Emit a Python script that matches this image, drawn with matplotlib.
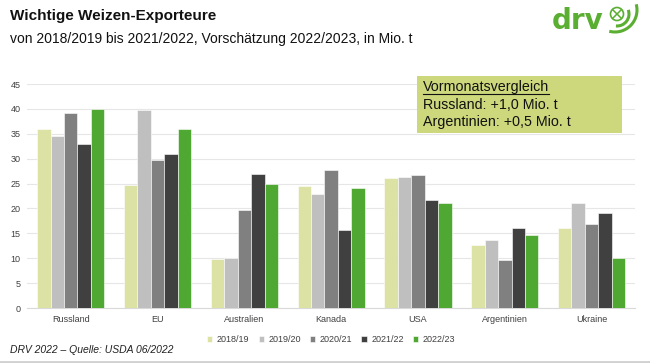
import numpy as np
import matplotlib
matplotlib.use("Agg")
import matplotlib.pyplot as plt
from matplotlib.patches import Circle, Arc

# ── Data ──────────────────────────────────────────────────────────────────────
countries = ["Russland", "EU", "Australien", "Kanada", "USA", "Argentinien", "Ukraine"]
seasons   = ["2018/19", "2019/20", "2020/21", "2021/22", "2022/23"]

v_2018 = [35.9, 24.7,  9.8, 24.5, 26.2, 12.7, 16.1]
v_2019 = [34.5, 39.8, 10.1, 23.0, 26.4, 13.6, 21.1]
v_2020 = [39.1, 29.7, 19.7, 27.8, 26.7,  9.6, 16.9]
v_2021 = [33.0, 31.0, 27.0, 15.6, 21.8, 16.1, 19.1]
v_2022 = [40.0, 36.0, 25.0, 24.1, 21.0, 14.6, 10.1]

colors = ["#DCE2A4", "#BFBFBF", "#808080", "#404040", "#4FA832"]
GREEN = "#5AAE32"

plt.rcParams["font.family"] = ["Liberation Sans", "DejaVu Sans"]

fig = plt.figure(figsize=(6.5, 3.63), dpi=100)
ax = fig.add_axes([0.042, 0.1515, 0.935, 0.617])

x = np.arange(len(countries))
w = 0.155
series = [v_2018, v_2019, v_2020, v_2021, v_2022]
for i, (vals, lab, c) in enumerate(zip(series, seasons, colors)):
    ax.bar(x + (i - 2) * w, vals, w, color=c, label=lab,
           edgecolor="white", linewidth=0.4, zorder=3)

ax.set_xlim(-0.5, 6.5)
ax.set_ylim(0, 45)
ax.set_yticks(range(0, 46, 5))
ax.set_xticks(x)
ax.set_xticklabels(countries)
ax.tick_params(axis="both", length=0, labelsize=6.5, colors="#404040")
ax.tick_params(axis="x", pad=5)
ax.tick_params(axis="y", pad=5)
ax.grid(axis="y", color="#E6E6E6", linewidth=0.8, zorder=0)
for s in ["top", "right", "left"]:
    ax.spines[s].set_visible(False)
ax.spines["bottom"].set_color("#D9D9D9")

ax.legend(loc="upper center", bbox_to_anchor=(0.5, -0.085), ncol=5,
          frameon=False, fontsize=6.5, handlelength=0.6, handleheight=0.6,
          columnspacing=1.0, handletextpad=0.5, labelcolor="#404040")

# ── Titles, footer ───────────────────────────────────────────────────────────
fig.text(0.016, 0.955, "Wichtige Weizen-Exporteure", fontsize=11,
         fontweight="bold", va="center", color="#111111")
fig.text(0.016, 0.893, "von 2018/2019 bis 2021/2022, Vorschätzung 2022/2023, in Mio. t",
         fontsize=10, va="center", color="#111111")
fig.text(0.016, 0.035, "DRV 2022 – Quelle: USDA 06/2022", fontsize=7.5,
         style="italic", va="center", color="#222222")
fig.add_artist(plt.Line2D([0, 1], [0.004, 0.004], color="#D0D0D0", linewidth=2))

# ── Logo (pixel-coordinate overlay) ──────────────────────────────────────────
lax = fig.add_axes([0, 0, 1, 1], zorder=10)
lax.set_xlim(0, 650)
lax.set_ylim(363, 0)
lax.axis("off")
lax.text(552, 21, "drv", fontsize=20, fontweight="bold", color=GREEN,
         family="DejaVu Sans", va="center", ha="left")
cx, cy = 617, 14
lax.add_patch(Circle((cx, cy), 6.5, fill=False, edgecolor=GREEN, linewidth=1.2))
lax.plot([cx - 4, cx + 4], [cy - 4, cy + 4], color=GREEN, linewidth=1.1)
lax.plot([cx - 4, cx + 4], [cy + 4, cy - 4], color=GREEN, linewidth=1.1)
lax.add_patch(Arc((cx, cy), 24, 24, theta1=-20, theta2=95, color=GREEN, linewidth=2.2))
lax.add_patch(Arc((cx - 2, cy - 4), 44, 44, theta1=-15, theta2=105, color=GREEN, linewidth=2.2))

# ── Annotation box ───────────────────────────────────────────────────────────
box = plt.Rectangle((0.642, 0.634), 0.315, 0.158, transform=fig.transFigure,
                    facecolor="#CDD77C", edgecolor="none", zorder=5)
fig.add_artist(box)
head = fig.text(0.651, 0.760, "Vormonatsvergleich", fontsize=10.3, va="center",
                color="#111111", zorder=6)
fig.text(0.651, 0.712, "Russland: +1,0 Mio. t", fontsize=10.3, va="center",
         color="#111111", zorder=6)
fig.text(0.651, 0.663, "Argentinien: +0,5 Mio. t", fontsize=10.3, va="center",
         color="#111111", zorder=6)

# underline the heading to its measured width
fig.canvas.draw()
bb = head.get_window_extent().transformed(fig.transFigure.inverted())
fig.add_artist(plt.Line2D([bb.x0, bb.x1], [0.740, 0.740], color="#111111",
                          linewidth=0.8, zorder=6))

fig.savefig("out.png", dpi=100)
